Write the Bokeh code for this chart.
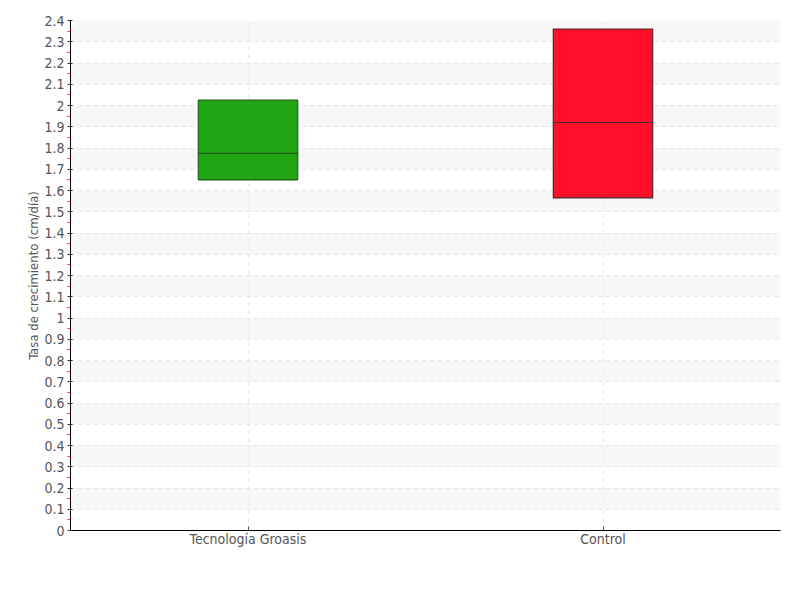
from bokeh.plotting import figure
from bokeh.models import FixedTicker
from bokeh.embed import file_html
from bokeh.resources import INLINE

categories = ["Tecnología Groasis", "Control"]
q1 = [1.65, 1.565]
median = [1.775, 1.92]
q3 = [2.025, 2.36]
colors = ["#22a512", "#ff0f2a"]
edge_colors = ["#1e5e16", "#4a2a2a"]
y_ticks = [round(i * 0.1, 1) for i in range(25)]
y_minor = [round(0.05 + i * 0.1, 2) for i in range(24)]

FONT = "DejaVu Sans Condensed, Roboto, sans-serif"

p = figure(x_range=categories, y_range=(0, 2.4), width=792, height=592,
           output_backend="svg", toolbar_location=None,
           min_border_left=70, min_border_top=20, min_border_right=12, min_border_bottom=62)
p.outline_line_color = None

p.vbar(x=categories, bottom=q1, top=median, width=0.28, fill_color=colors,
       line_color=edge_colors, line_width=1.2)
p.vbar(x=categories, bottom=median, top=q3, width=0.28, fill_color=colors,
       line_color=edge_colors, line_width=1.2)

# y axis
p.yaxis.ticker = FixedTicker(ticks=y_ticks, minor_ticks=y_minor)
p.yaxis.major_label_overrides = {v: f"{v:g}" for v in y_ticks}
p.yaxis.axis_label = "Tasa de crecimiento (cm/día)"
p.yaxis.axis_label_text_font = FONT
p.yaxis.axis_label_text_font_style = "normal"
p.yaxis.axis_label_text_font_size = "13px"
p.yaxis.axis_label_text_color = "#555555"
p.yaxis.axis_label_standoff = 0
p.yaxis.major_label_text_font = FONT
p.yaxis.major_label_text_font_size = "14px"
p.yaxis.major_label_text_color = "#555555"
p.yaxis.major_label_standoff = 3
p.yaxis.axis_line_color = "black"
p.yaxis.major_tick_line_color = "#333333"
p.yaxis.major_tick_in = 2
p.yaxis.major_tick_out = 3
p.yaxis.minor_tick_line_color = "#ff3030"
p.yaxis.minor_tick_in = 0
p.yaxis.minor_tick_out = 3

# x axis
p.xaxis.major_label_text_font = FONT
p.xaxis.major_label_text_font_size = "14px"
p.xaxis.major_label_text_color = "#555555"
p.xaxis.axis_line_color = "black"
p.xaxis.major_tick_line_color = "#555555"
p.xaxis.major_tick_in = 4
p.xaxis.major_tick_out = 0
p.xaxis.major_label_standoff = 0

# grids
p.ygrid.grid_line_color = "#e6e6e6"
p.ygrid.grid_line_dash = "4 4"
p.ygrid.band_fill_color = "#f2f2f2"
p.ygrid.band_fill_alpha = 0.6
p.xgrid.grid_line_color = "#e6e6e6"
p.xgrid.grid_line_dash = "4 4"

open("out.html", "w").write(file_html(p, INLINE))
